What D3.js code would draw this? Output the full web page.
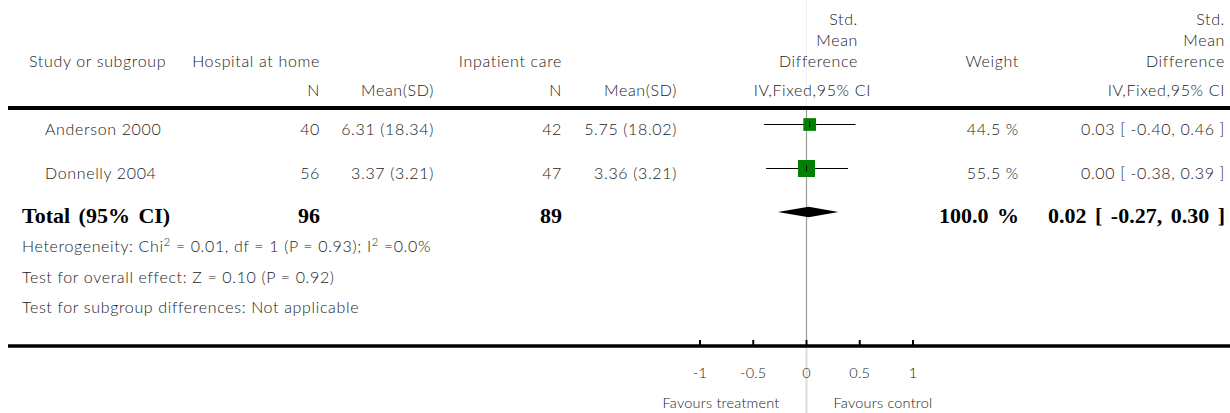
<!DOCTYPE html>
<html>
<head>
<meta charset="utf-8">
<script src="https://cdn.jsdelivr.net/npm/d3@7"></script>
<style>
  html, body { margin: 0; padding: 0; background: #fff; }
  svg { display: block; }
  .t { font-family: Lato, "Open Sans", sans-serif; font-size: 16px; font-weight: 300; letter-spacing: 0.65px; fill: #1a1a1a; }
  .s { font-family: Lato, "Open Sans", sans-serif; font-size: 14.5px; font-weight: 300; letter-spacing: 0.2px; fill: #1a1a1a; }
  .b { font-family: "Liberation Serif", "Times New Roman", serif; font-size: 22px; word-spacing: 3px; font-weight: bold; fill: #000; }
</style>
</head>
<body>
<svg id="chart" width="1230" height="413"></svg>
<script>
// ---- data ----
const studies = ["Anderson 2000", "Donnelly 2004"];
const n1 = [40, 56];
const mean1 = [6.31, 3.37];
const sd1 = [18.34, 3.21];
const n2 = [42, 47];
const mean2 = [5.75, 3.36];
const sd2 = [18.02, 3.21];
const smd = [0.03, 0.00];
const ciLow = [-0.40, -0.38];
const ciHigh = [0.46, 0.39];
const weights = [44.5, 55.5];
const totalN1 = 96, totalN2 = 89;
const totalSmd = 0.02, totalLow = -0.27, totalHigh = 0.30, totalWeight = 100.0;
const ticks = [-1, -0.5, 0, 0.5, 1];
const tickLabels = ["-1", "-0.5", "0", "0.5", "1"];
const groupLabels = ["Hospital at home", "Inpatient care"];
const favourLabels = ["Favours treatment", "Favours control"];
const heterogeneity = ["Heterogeneity: Chi", "2", " = 0.01, df = 1 (P = 0.93); I", "2", " =0.0%"];
const overallEffect = "Test for overall effect: Z = 0.10 (P = 0.92)";
const subgroupDiff = "Test for subgroup differences: Not applicable";

// ---- layout ----
const svg = d3.select("#chart");
const x = d3.scaleLinear().domain([-1, 1]).range([700, 913]);
const rowY = d3.scaleLinear().domain([0, 1]).range([129, 173]);
const totalY = 215;
const axisY = 346;
const boxSize = d3.scaleLinear().domain([44.5, 55.5]).range([12.7, 17]);
const f2 = v => v.toFixed(2);
const col = { study: 45, n1: 320, m1: 434, n2: 562, m2: 677, forestR: 858, weight: 1019, ci: 1225 };

function txt(sel, s, xx, yy, anchor, cls) {
  return sel.append("text").attr("class", cls || "t").attr("x", xx).attr("y", yy)
    .attr("text-anchor", anchor || "start").attr("dy", "0.35em").text(s);
}

// zero line segments
const z = x(0);
svg.append("line").attr("x1", z).attr("x2", z).attr("y1", 0).attr("y2", 108).attr("stroke", "#eeeeee").attr("stroke-width", 1);
svg.append("line").attr("x1", z).attr("x2", z).attr("y1", 108).attr("y2", axisY).attr("stroke", "#9a9a9a").attr("stroke-width", 1.2);
svg.append("line").attr("x1", z).attr("x2", z).attr("y1", axisY).attr("y2", 413).attr("stroke", "#dddddd").attr("stroke-width", 2);

// header
const hdr = svg.append("g");
txt(hdr, "Study or subgroup", 29, 61);
txt(hdr, groupLabels[0], col.n1, 61, "end");
txt(hdr, groupLabels[1], col.n2, 61, "end");
txt(hdr, "Std.", col.forestR, 19, "end");
txt(hdr, "Mean", col.forestR, 40, "end");
txt(hdr, "Difference", col.forestR, 61, "end");
txt(hdr, "Weight", col.weight, 61, "end");
txt(hdr, "Std.", col.ci, 19, "end");
txt(hdr, "Mean", col.ci, 40, "end");
txt(hdr, "Difference", col.ci, 61, "end");
txt(hdr, "N", col.n1, 90, "end");
txt(hdr, "Mean(SD)", col.m1, 90, "end");
txt(hdr, "N", col.n2, 90, "end");
txt(hdr, "Mean(SD)", col.m2, 90, "end");
txt(hdr, "IV,Fixed,95% CI", 871, 90, "end");
txt(hdr, "IV,Fixed,95% CI", col.ci, 90, "end");

svg.append("line").attr("x1", 8).attr("x2", 1230).attr("y1", 108).attr("y2", 108)
  .attr("stroke", "#000").attr("stroke-width", 4);

// study rows
studies.forEach((s, i) => {
  const y = rowY(i);
  txt(svg, s, col.study, y);
  txt(svg, n1[i], col.n1, y, "end");
  txt(svg, f2(mean1[i]) + " (" + f2(sd1[i]) + ")", col.m1, y, "end");
  txt(svg, n2[i], col.n2, y, "end");
  txt(svg, f2(mean2[i]) + " (" + f2(sd2[i]) + ")", col.m2, y, "end");
  txt(svg, weights[i].toFixed(1) + " %", col.weight, y, "end");
  txt(svg, f2(smd[i]) + " [ " + f2(ciLow[i]) + ", " + f2(ciHigh[i]) + " ]", col.ci, y, "end");

  const my = y - 4.5;
  svg.append("line").attr("x1", x(ciLow[i])).attr("x2", x(ciHigh[i])).attr("y1", my).attr("y2", my)
    .attr("stroke", "#000").attr("stroke-width", 1.2);
  const bs = boxSize(weights[i]);
  svg.append("rect").attr("x", x(smd[i]) - bs / 2).attr("y", my - bs / 2)
    .attr("width", bs).attr("height", bs).attr("fill", "#008000");
  svg.append("line").attr("x1", x(smd[i])).attr("x2", x(smd[i])).attr("y1", my - 3).attr("y2", my + 3)
    .attr("stroke", "#000").attr("stroke-width", 1);
});

// total row
txt(svg, "Total (95% CI)", 22, totalY, "start", "b");
txt(svg, totalN1, col.n1, totalY, "end", "b");
txt(svg, totalN2, col.n2, totalY, "end", "b");
txt(svg, totalWeight.toFixed(1) + " %", col.weight, totalY, "end", "b");
txt(svg, f2(totalSmd) + " [ " + f2(totalLow) + ", " + f2(totalHigh) + " ]", col.ci, totalY, "end", "b");
const dy = totalY - 3;
svg.append("path")
  .attr("d", d3.line()([[x(totalLow), dy], [x(totalSmd), dy - 5.2], [x(totalHigh), dy], [x(totalSmd), dy + 5.2]]) + "Z")
  .attr("fill", "#000");

// footnotes
const het = svg.append("text").attr("class", "t").attr("x", 22).attr("y", 246).attr("dy", "0.35em");
heterogeneity.forEach((p, i) => {
  const sp = het.append("tspan").text(p);
  if (i % 2 === 1) sp.attr("font-size", "11px").attr("baseline-shift", "super");
});
txt(svg, overallEffect, 22, 277);
txt(svg, subgroupDiff, 22, 307);

// axis
svg.append("line").attr("x1", 8).attr("x2", 1230).attr("y1", axisY).attr("y2", axisY)
  .attr("stroke", "#000").attr("stroke-width", 3.4);
svg.selectAll(".tk").data(ticks).enter().append("line")
  .attr("x1", d => x(d)).attr("x2", d => x(d)).attr("y1", axisY - 6).attr("y2", axisY)
  .attr("stroke", "#000").attr("stroke-width", 2);
ticks.forEach((d, i) => { txt(svg, tickLabels[i], x(d), 373, "middle", "s"); });
txt(svg, favourLabels[0], z - 27, 403, "end", "s");
txt(svg, favourLabels[1], z + 27, 403, "start", "s");
</script>
</body>
</html>
